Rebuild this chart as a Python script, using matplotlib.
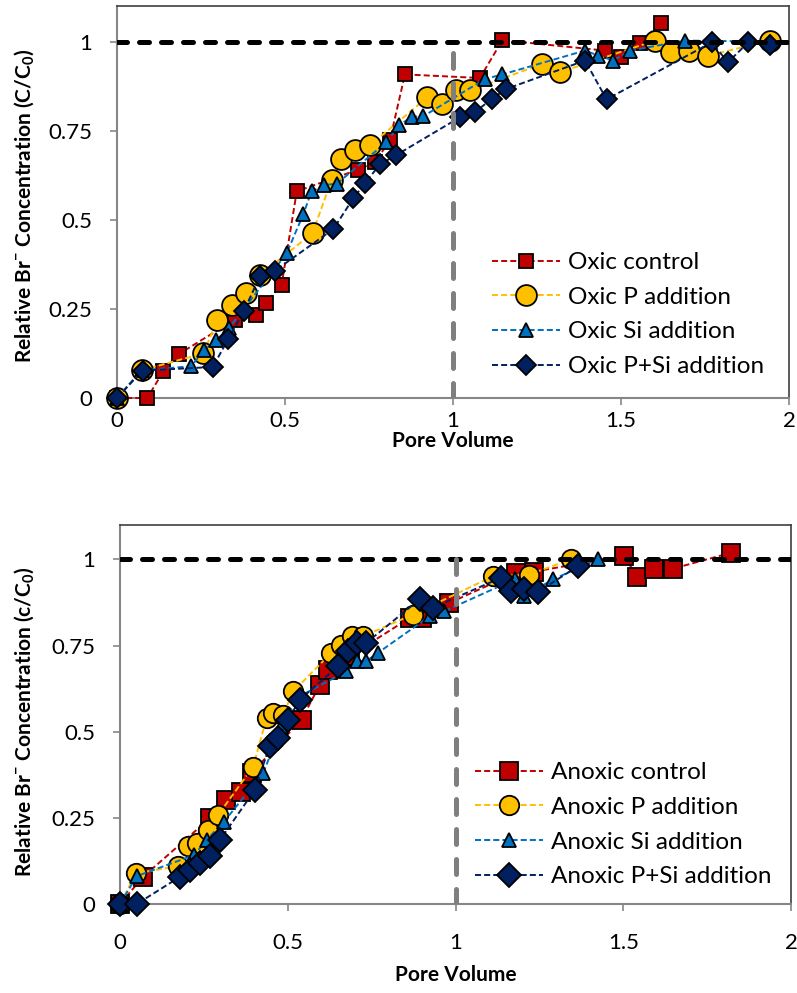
import matplotlib
matplotlib.use("Agg")
import matplotlib.pyplot as plt

plt.rcParams['font.family'] = ['Lato', 'DejaVu Sans']
plt.rcParams['mathtext.fontset'] = 'custom'
plt.rcParams['mathtext.rm'] = 'Lato'
plt.rcParams['mathtext.bf'] = 'Lato:bold'

# --- oxic columns ---
ox_ctrl_x = [0, 0.09, 0.138, 0.185, 0.351, 0.414, 0.443, 0.49, 0.535, 0.718, 0.768, 0.812,
             0.857, 1.08, 1.147, 1.452, 1.5, 1.557, 1.619]
ox_ctrl_y = [0, 0, 0.075, 0.124, 0.22, 0.233, 0.267, 0.318, 0.58, 0.641, 0.662, 0.723,
             0.908, 0.898, 1.004, 0.975, 0.956, 0.995, 1.053]

ox_p_x = [0, 0.073, 0.257, 0.299, 0.341, 0.384, 0.426, 0.582, 0.639, 0.667, 0.708, 0.753,
          0.924, 0.966, 1.009, 1.051, 1.264, 1.318, 1.601, 1.649, 1.703, 1.76, 1.943]
ox_p_y = [0, 0.078, 0.125, 0.22, 0.26, 0.296, 0.345, 0.463, 0.613, 0.671, 0.695, 0.709,
          0.844, 0.825, 0.863, 0.863, 0.937, 0.914, 1.003, 0.97, 0.975, 0.961, 1.003]

ox_si_x = [0, 0.073, 0.221, 0.26, 0.296, 0.334, 0.505, 0.555, 0.579, 0.617, 0.654, 0.802,
           0.839, 0.877, 0.912, 1.095, 1.147, 1.393, 1.432, 1.477, 1.527, 1.69, 1.943]
ox_si_y = [0, 0.078, 0.089, 0.135, 0.163, 0.197, 0.406, 0.517, 0.58, 0.598, 0.601, 0.718,
           0.765, 0.789, 0.791, 0.895, 0.908, 0.975, 0.961, 0.947, 0.975, 1.003, 1.0]

ox_psi_x = [0, 0.076, 0.285, 0.331, 0.377, 0.426, 0.47, 0.644, 0.703, 0.738, 0.783, 0.83,
            1.021, 1.065, 1.115, 1.158, 1.393, 1.457, 1.77, 1.818, 1.879, 1.943]
ox_psi_y = [0, 0.077, 0.087, 0.165, 0.243, 0.343, 0.357, 0.474, 0.56, 0.603, 0.656, 0.681,
            0.788, 0.802, 0.839, 0.867, 0.947, 0.838, 0.998, 0.942, 0.998, 0.991]

# --- anoxic columns ---
an_ctrl_x = [0, 0.069, 0.268, 0.317, 0.36, 0.392, 0.541, 0.595, 0.62, 0.685, 0.863, 0.9,
             0.982, 1.18, 1.235, 1.503, 1.541, 1.592, 1.647, 1.82]
an_ctrl_y = [0, 0.079, 0.249, 0.302, 0.326, 0.38, 0.535, 0.635, 0.68, 0.72, 0.83, 0.83,
             0.874, 0.961, 0.965, 1.01, 0.95, 0.973, 0.973, 1.019]

an_p_x = [0, 0.048, 0.174, 0.203, 0.23, 0.263, 0.293, 0.397, 0.437, 0.456, 0.486, 0.516,
          0.63, 0.66, 0.692, 0.724, 0.873, 1.111, 1.218, 1.344]
an_p_y = [0, 0.089, 0.11, 0.167, 0.176, 0.215, 0.259, 0.399, 0.54, 0.554, 0.549, 0.617,
          0.729, 0.753, 0.777, 0.777, 0.84, 0.951, 0.956, 1.0]

an_si_x = [0, 0.05, 0.221, 0.258, 0.31, 0.427, 0.481, 0.536, 0.675, 0.705, 0.734, 0.769,
           0.923, 0.967, 1.176, 1.205, 1.29, 1.424]
an_si_y = [0, 0.081, 0.142, 0.186, 0.239, 0.38, 0.515, 0.603, 0.675, 0.705, 0.705, 0.729,
           0.835, 0.85, 0.942, 0.893, 0.942, 1.0]

an_psi_x = [0, 0.05, 0.179, 0.208, 0.238, 0.268, 0.298, 0.402, 0.446, 0.471, 0.501, 0.536,
            0.65, 0.68, 0.705, 0.734, 0.893, 0.932, 1.136, 1.166, 1.205, 1.245, 1.364]
an_psi_y = [0, 0.0, 0.079, 0.099, 0.118, 0.138, 0.186, 0.331, 0.459, 0.482, 0.535, 0.593,
            0.69, 0.733, 0.758, 0.758, 0.884, 0.86, 0.947, 0.908, 0.913, 0.905, 0.98]

xticks = [0, 0.5, 1, 1.5, 2]
xtick_labels = ['0', '0.5', '1', '1.5', '2']
yticks = [0, 0.25, 0.5, 0.75, 1]
ytick_labels = ['0', '0.25', '0.5', '0.75', '1']

colors = ['#C00000', '#FFC000', '#0070C0', '#002060']
markers = ['s', 'o', '^', 'D']


def style_axes(ax, ylabel, xpad):
    ax.set_xlim(0, 2)
    ax.set_ylim(0, 1.1)
    ax.set_xticks(xticks)
    ax.set_xticklabels(xtick_labels)
    ax.set_yticks(yticks)
    ax.set_yticklabels(ytick_labels)
    for side in ['left', 'bottom']:
        ax.spines[side].set_color('#868686')
        ax.spines[side].set_linewidth(1.5)
    for side in ['top', 'right']:
        ax.spines[side].set_color('#404040')
        ax.spines[side].set_linewidth(1.2)
    ax.tick_params(axis='both', direction='out', length=5, width=1.2, color='#868686',
                   labelsize=16)
    ax.tick_params(axis='y', pad=13)
    ax.tick_params(axis='x', pad=xpad)
    ax.set_xlabel('Pore Volume', fontsize=15, fontweight='bold')
    ax.set_ylabel(ylabel, fontsize=15, fontweight='bold')
    # reference lines: full breakthrough and one pore volume
    ax.axhline(1, color='black', lw=3.6, ls=(0, (2.0, 2.4)), dash_capstyle='round', zorder=6)
    ax.plot([1, 1], [0, 1], color='#7F7F7F', lw=3.6, ls=(0, (3.0, 3.0)),
            dash_capstyle='round', zorder=6)


def draw_series(ax, xs, ys, labels, sizes):
    for x, y, lab, c, m, s in zip(xs, ys, labels, colors, markers, sizes):
        ax.plot(x, y, color=c, lw=1.4, ls=(0, (3.1, 1.6)), marker=m, ms=s,
                markerfacecolor=c, markeredgecolor='black', markeredgewidth=1.3,
                label=lab, clip_on=False, zorder=3)


def add_legend(ax, anchor):
    ax.legend(loc='upper left', bbox_to_anchor=anchor, frameon=False, fontsize=17.5,
              handlelength=2.8, handletextpad=0.33, labelspacing=0.56, borderpad=0,
              borderaxespad=0, numpoints=1)


fig = plt.figure(figsize=(7.97, 9.93), dpi=100)

ax1 = fig.add_axes([117 / 797, 1 - 398 / 993, 672 / 797, 392 / 993])
draw_series(ax1, [ox_ctrl_x, ox_p_x, ox_si_x, ox_psi_x],
            [ox_ctrl_y, ox_p_y, ox_si_y, ox_psi_y],
            ['Oxic control', 'Oxic P addition', 'Oxic Si addition', 'Oxic P+Si addition'],
            [10, 15, 10, 10])
style_axes(ax1, r'Relative Br$^{\mathbf{-}}$ Concentration (C/C$_{\mathbf{0}}$)', 4)
ax1.xaxis.set_label_coords(0.5, -0.11)
ax1.xaxis.label.set_va('center')
ax1.yaxis.set_label_coords(-0.137, 0.49)
ax1.yaxis.label.set_va('center')
add_legend(ax1, (0.558, 0.372))

ax2 = fig.add_axes([120 / 797, 1 - 904 / 993, 671 / 797, 379 / 993])
draw_series(ax2, [an_ctrl_x, an_p_x, an_si_x, an_psi_x],
            [an_ctrl_y, an_p_y, an_si_y, an_psi_y],
            ['Anoxic control', 'Anoxic P addition', 'Anoxic Si addition',
             'Anoxic P+Si addition'],
            [13, 14, 10, 12])
style_axes(ax2, r'Relative Br$^{\mathbf{-}}$ Concentration (c/C$_{\mathbf{0}}$)', 16)
ax2.xaxis.set_label_coords(0.5, -0.187)
ax2.xaxis.label.set_va('center')
ax2.yaxis.set_label_coords(-0.1416, 0.48)
ax2.yaxis.label.set_va('center')
add_legend(ax2, (0.529, 0.374))

fig.savefig('out.png', dpi=100)
